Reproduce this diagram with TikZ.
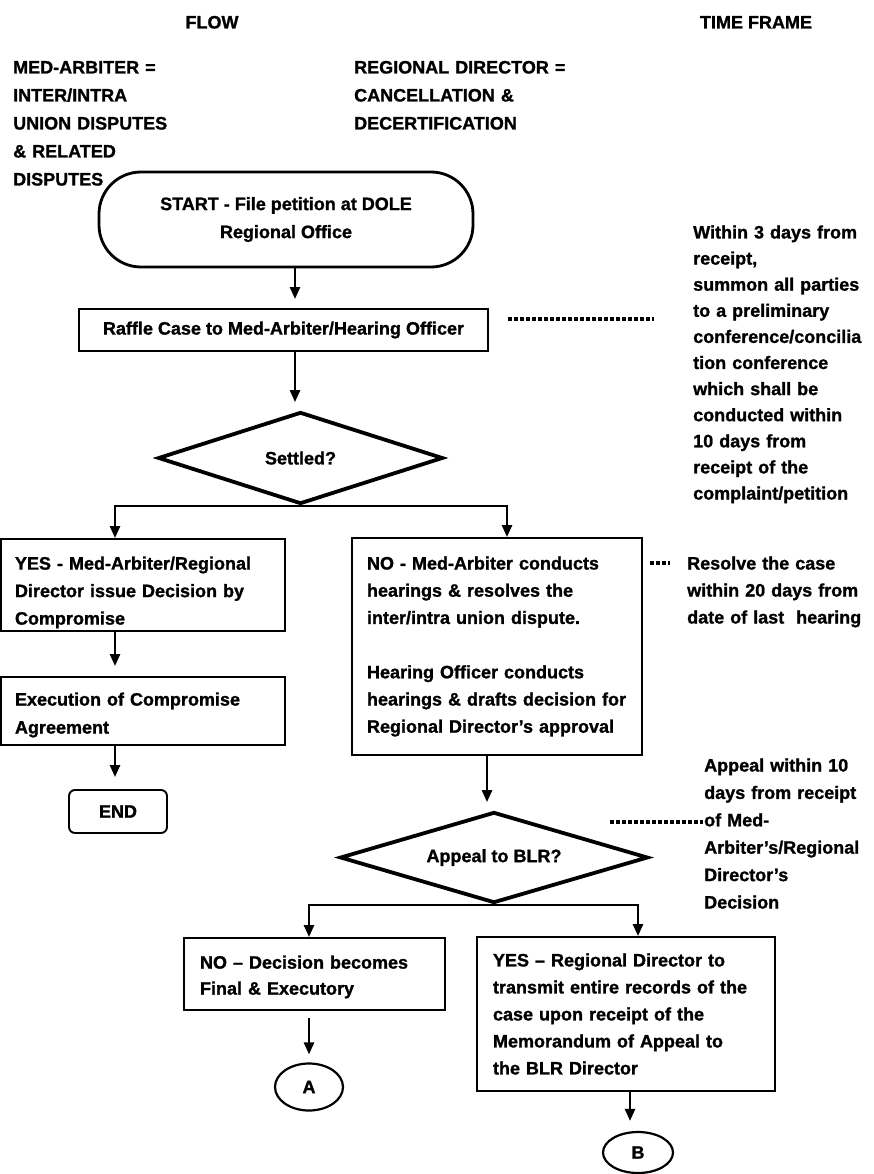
\documentclass[tikz,border=0pt]{standalone}
\usepackage{fontspec}
\setmainfont{Liberation Sans}[BoldFeatures={FakeBold=1.2}]
\usetikzlibrary{arrows.meta,shapes.geometric}
\begin{document}
\begin{tikzpicture}[x=1pt,y=-1pt,
  tx/.style={font=\fontsize{18pt}{27pt}\selectfont\bfseries, text=black},
  free/.style={tx, inner sep=0pt, anchor=base west, align=left, text width=#1},
  pbox/.style={tx, draw, line width=1.9pt, inner xsep=#1, inner ysep=0pt, align=left},
  arr/.style={line width=2.5pt, -{Triangle[width=10pt,length=12pt]}},
  leader/.style={line width=3.2pt, dash pattern=on 4pt off 2pt},
  dia/.style={tx, draw, diamond, line width=3.8pt, inner sep=0pt, shape aspect=3},
  conn/.style={tx, draw, ellipse, line width=2.2pt, inner sep=0pt},
]
\useasboundingbox (0,0) rectangle (873,1174);

% headings
\node[tx, anchor=base] (hflow) at (212,28.5) {FLOW};
\node[tx, anchor=base] (htime) at (756,28.5) {TIME FRAME};
\node[free=210pt, font=\fontsize{18pt}{28pt}\selectfont\bfseries] (medarb) at (13,73.5)
  {MED-ARBITER =\\INTER/INTRA\\UNION DISPUTES\\\& RELATED\\DISPUTES};
\node[free=230pt, font=\fontsize{18pt}{28pt}\selectfont\bfseries] (regdir) at (354,73.5)
  {REGIONAL DIRECTOR =\\CANCELLATION \&\\DECERTIFICATION};

% column x positions of the connectors
\coordinate (x1) at (295,0);
\coordinate (x2) at (115,0);
\coordinate (x3) at (507,0);
\coordinate (x4) at (487,0);
\coordinate (x5) at (309,0);
\coordinate (x6) at (638,0);
\coordinate (x7) at (630,0);

% flow nodes
\node[tx, draw, line width=2.8pt, rounded corners=42pt, minimum width=374pt, minimum height=95pt,
  align=center, font=\fontsize{18pt}{28pt}\selectfont\bfseries] (start) at (286,219.5)
  {START - File petition at DOLE\\Regional Office};
\node[tx, draw, line width=1.9pt, minimum width=409pt, minimum height=42pt, inner sep=0pt] (raffle) at (283.5,330)
  {Raffle Case to Med-Arbiter/Hearing Officer};
\node[dia, minimum width=285pt, minimum height=92pt] (settled) at (300.5,458) {Settled?};

\node[pbox=14pt, minimum width=284pt, minimum height=92pt, text width=256pt,
  font=\fontsize{18pt}{27.5pt}\selectfont\bfseries, text height=28pt] (yes) at (143,585)
  {YES - Med-Arbiter/Regional\\Director issue Decision by\\Compromise};
\node[pbox=14pt, minimum width=284pt, minimum height=68pt, text width=256pt,
  font=\fontsize{18pt}{28pt}\selectfont\bfseries, text height=21pt] (exec) at (143,711)
  {Execution of Compromise\\Agreement};
\node[tx, draw, line width=1.9pt, rounded corners=6pt, minimum width=98pt, minimum height=43pt, inner sep=0pt] (end) at (118,811.5) {END};

\node[pbox=15pt, minimum width=290pt, minimum height=217pt, text width=260pt,
  font=\fontsize{18pt}{27.2pt}\selectfont\bfseries] (no) at (497,646.5)
  {NO - Med-Arbiter conducts\\hearings \& resolves the\\inter/intra union dispute.\\[27.2pt]Hearing Officer conducts\\hearings \& drafts decision for\\Regional Director's approval};

\node[dia, minimum width=308pt, minimum height=91pt] (appeal) at (494,857.5) {Appeal to BLR?};

\node[pbox=16pt, minimum width=261pt, minimum height=72pt, text width=229pt,
  font=\fontsize{18pt}{26pt}\selectfont\bfseries, text height=19pt] (nodec) at (314.5,974)
  {NO -- Decision becomes\\Final \& Executory};
\node[pbox=16pt, minimum width=298pt, minimum height=154pt, text width=266pt,
  font=\fontsize{18pt}{27pt}\selectfont\bfseries] (yesblr) at (626,1014)
  {YES -- Regional Director to\\transmit entire records of the\\case upon receipt of the\\Memorandum of Appeal to\\the BLR Director};

\node[conn, minimum width=68pt, minimum height=47pt] (A) at (309,1087) {A};
\node[conn, minimum width=70pt, minimum height=41pt] (B) at (638,1152.5) {B};

% time frame texts
\node[free=190pt, font=\fontsize{18pt}{26.1pt}\selectfont\bfseries] (tf1) at (693,238.5)
  {Within 3 days from\\receipt,\\summon all parties\\to a preliminary\\conference/concilia\\tion conference\\which shall be\\conducted within\\10 days from\\receipt of the\\complaint/petition};
\node[free=190pt, font=\fontsize{18pt}{27pt}\selectfont\bfseries] (tf2) at (687,569.5)
  {Resolve the case\\within 20 days from\\date of last~ hearing};
\node[free=175pt, font=\fontsize{18pt}{27.4pt}\selectfont\bfseries] (tf3) at (704,771.5)
  {Appeal within 10\\days from receipt\\of Med-\\Arbiter's/Regional\\Director's\\Decision};

% connectors
\draw[arr, shorten >=9pt] (start.south -| x1) -- (raffle.north -| x1);
\draw[arr, shorten >=8pt] (raffle.south -| x1) -- (settled.north -| x1);
\draw[arr] (settled.south) -| (yes.north -| x2);
\draw[arr] (settled.south) -| (no.north -| x3);
\draw[arr, shorten >=10pt] (yes.south -| x2) -- (exec.north -| x2);
\draw[arr, shorten >=12pt] (exec.south -| x2) -- (end.north -| x2);
\draw[arr, shorten >=8pt] (no.south -| x4) -- (appeal.north -| x4);
\draw[arr] (appeal.south) -| (nodec.north -| x5);
\draw[arr] (appeal.south) -| (yesblr.north -| x6);
\draw[arr, shorten <=7pt, shorten >=8pt] (nodec.south -| x5) -- (A.north);
\draw[arr, shorten >=10pt] (yesblr.south -| x7) -- (B.north -| x7);

% dashed leaders to the time frame texts
\coordinate (l1a) at (508,319); \coordinate (l1b) at (654,319);
\draw[leader] (l1a) -- (l1b);
\coordinate (l2a) at (650,563); \coordinate (l2b) at (670,563);
\draw[leader] (l2a) -- (l2b);
\coordinate (l3a) at (610,822); \coordinate (l3b) at (703,822);
\draw[leader] (l3a) -- (l3b);
\end{tikzpicture}
\end{document}
